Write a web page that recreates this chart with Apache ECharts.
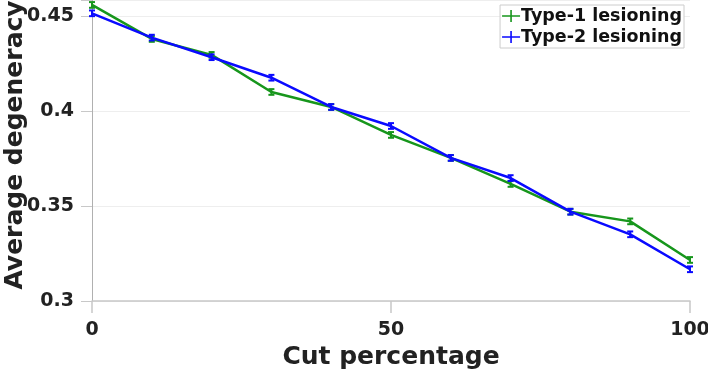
<!DOCTYPE html>
<html>
<head>
<meta charset="utf-8">
<script src="https://cdn.jsdelivr.net/npm/echarts@6/dist/echarts.min.js"></script>
<style>
  html, body { margin: 0; padding: 0; background: #fff; }
  #chart { width: 708px; height: 371px; }
</style>
</head>
<body>
<div id="chart"></div>
<script>
// data
const cutPct = [0, 10, 20, 30, 40, 50, 60, 70, 80, 90, 100]
const type1 = [0.4558, 0.4379, 0.4295, 0.4100, 0.4021, 0.3874, 0.3753, 0.3616, 0.3470, 0.3419, 0.3216]
const type2 = [0.4514, 0.4386, 0.4283, 0.4175, 0.4021, 0.3921, 0.3753, 0.3647, 0.3470, 0.3351, 0.3167]
const err1 = [0.0015, 0.0015, 0.0015, 0.0015, 0.0015, 0.0015, 0.0015, 0.0015, 0.0015, 0.0015, 0.0015]
const err2 = [0.0015, 0.0015, 0.0015, 0.0015, 0.0015, 0.0015, 0.0015, 0.0015, 0.0015, 0.0015, 0.0015]
const yTicks = [0.3, 0.35, 0.4, 0.45]

const GREEN = "#17961c"
const BLUE = "#0a0aff"
const FONT = "DejaVu Sans"

// legend icon: horizontal line crossed by a small vertical bar (error bar look)
const errIcon = "path://M0,6.2 H18 V7.8 H0 Z M8.2,1 H9.8 V13 H8.2 Z"

function pairs(ys) {
  return cutPct.map((x, i) => [x, ys[i]])
}
function errData(ys, es) {
  return cutPct.map((x, i) => [x, ys[i] - es[i], ys[i] + es[i]])
}

function errBar(color) {
  return function (params, api) {
    const top = api.coord([api.value(0), api.value(2)])
    const bot = api.coord([api.value(0), api.value(1)])
    const w = 3
    const st = { stroke: color, lineWidth: 2 }
    return {
      type: "group",
      children: [
        { type: "line", shape: { x1: top[0], y1: top[1], x2: bot[0], y2: bot[1] }, style: st },
        { type: "line", shape: { x1: top[0] - w, y1: top[1], x2: top[0] + w, y2: top[1] }, style: st },
        { type: "line", shape: { x1: bot[0] - w, y1: bot[1], x2: bot[0] + w, y2: bot[1] }, style: st }
      ]
    }
  }
}

const chart = echarts.init(document.getElementById("chart"))

chart.setOption({
  animation: false,
  grid: { left: 92, right: 18, top: 0, bottom: 70, containLabel: false, outerBoundsMode: "none" },
  legend: {
    right: 24,
    top: 5,
    orient: "vertical",
    itemGap: 3,
    itemWidth: 18,
    itemHeight: 14,
    padding: [2, 2, 2, 2],
    borderColor: "#cccccc",
    borderWidth: 1,
    backgroundColor: "#fff",
    textStyle: { fontFamily: FONT, fontWeight: "bold", fontSize: 17.5, color: "#111", padding: [0, 0, 0, -4] },
    data: [
      { name: "Type-1 lesioning", icon: errIcon, itemStyle: { color: GREEN } },
      { name: "Type-2 lesioning", icon: errIcon, itemStyle: { color: BLUE } }
    ]
  },
  xAxis: {
    type: "value",
    min: 0,
    max: 100,
    interval: 50,
    name: "Cut percentage",
    nameLocation: "middle",
    nameGap: 44,
    nameTextStyle: { fontFamily: FONT, fontWeight: "bold", fontSize: 25, color: "#222" },
    axisLine: { show: true, lineStyle: { color: "#c8c8c8", width: 1.5 } },
    axisTick: { show: true, length: 12, lineStyle: { color: "#c8c8c8", width: 1.5 } },
    axisLabel: { fontFamily: FONT, fontWeight: "bold", fontSize: 19, color: "#222", margin: 20 },
    splitLine: { show: false }
  },
  yAxis: {
    type: "value",
    min: 0.3,
    max: 0.4584,
    interval: 0.05,
    name: "Average degeneracy",
    nameLocation: "middle",
    nameGap: 64,
    nameMoveOverlap: false,
    nameTextStyle: { fontFamily: FONT, fontWeight: "bold", fontSize: 25, color: "#222", padding: [0, 0, 0, 11] },
    axisLine: { show: true, onZero: false, lineStyle: { color: "#b0b0b0", width: 1 } },
    axisTick: { show: true, length: 11, lineStyle: { color: "#c8c8c8", width: 1 } },
    axisLabel: {
      fontFamily: FONT, fontWeight: "bold", fontSize: 19, color: "#222", margin: 18,
      formatter: v => (yTicks.some(t => Math.abs(t - v) < 1e-9) ? String(+v.toFixed(2)) : "")
    },
    splitLine: { show: true, lineStyle: { color: "#eeeeee", width: 1 } }
  },
  series: [
    {
      name: "Type-1 lesioning",
      type: "line",
      data: pairs(type1),
      showSymbol: false,
      lineStyle: { color: GREEN, width: 2.5 },
      itemStyle: { color: GREEN },
      z: 2
    },
    {
      name: "Type-1 lesioning",
      type: "custom",
      data: errData(type1, err1),
      renderItem: errBar(GREEN),
      itemStyle: { color: GREEN },
      encode: { x: 0, y: [1, 2] },
      z: 3
    },
    {
      name: "Type-2 lesioning",
      type: "line",
      data: pairs(type2),
      showSymbol: false,
      lineStyle: { color: BLUE, width: 2.5 },
      itemStyle: { color: BLUE },
      z: 4
    },
    {
      name: "Type-2 lesioning",
      type: "custom",
      data: errData(type2, err2),
      renderItem: errBar(BLUE),
      itemStyle: { color: BLUE },
      encode: { x: 0, y: [1, 2] },
      z: 5
    }
  ]
})
</script>
</body>
</html>
